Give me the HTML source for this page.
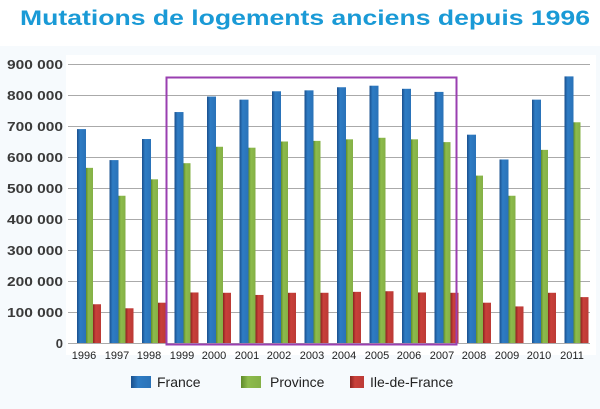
<!DOCTYPE html>
<html><head><meta charset="utf-8"><style>
html,body{margin:0;padding:0;background:#fff;}
svg{display:block;}
</style></head><body>
<svg id="c" width="600" height="409" viewBox="0 0 600 409" xmlns="http://www.w3.org/2000/svg" font-family="Liberation Sans, Arial, sans-serif">
<defs>
<linearGradient id="gb" x1="0" x2="1"><stop offset="0" stop-color="#1a4f8c"/><stop offset="0.35" stop-color="#2e7cc4"/><stop offset="1" stop-color="#2a72b8"/></linearGradient>
<linearGradient id="gg" x1="0" x2="1"><stop offset="0" stop-color="#5e8a2a"/><stop offset="0.35" stop-color="#8dbb4c"/><stop offset="1" stop-color="#84b046"/></linearGradient>
<linearGradient id="gr" x1="0" x2="1"><stop offset="0" stop-color="#8a2420"/><stop offset="0.35" stop-color="#c9403a"/><stop offset="1" stop-color="#bb3a35"/></linearGradient>
</defs>
<rect x="0" y="0" width="600" height="409" fill="#fff"/>
<rect x="0" y="46" width="600" height="363" fill="#f6fafd"/>
<rect x="66" y="55" width="530" height="300" fill="#fff"/>
<text x="20" y="25" font-size="21" font-weight="bold" fill="#1a9ad6" textLength="570" lengthAdjust="spacingAndGlyphs">Mutations de logements anciens depuis 1996</text>
<g id="grid" stroke="#aaa" stroke-width="1"></g>
<g font-size="13" font-weight="bold" fill="#3a3a3a" text-anchor="end">
<text x="63" y="69" textLength="56" lengthAdjust="spacingAndGlyphs">900 000</text>
<text x="63" y="100" textLength="56" lengthAdjust="spacingAndGlyphs">800 000</text>
<text x="63" y="131" textLength="56" lengthAdjust="spacingAndGlyphs">700 000</text>
<text x="63" y="162" textLength="56" lengthAdjust="spacingAndGlyphs">600 000</text>
<text x="63" y="193" textLength="56" lengthAdjust="spacingAndGlyphs">500 000</text>
<text x="63" y="224" textLength="56" lengthAdjust="spacingAndGlyphs">400 000</text>
<text x="63" y="255" textLength="56" lengthAdjust="spacingAndGlyphs">300 000</text>
<text x="63" y="286" textLength="56" lengthAdjust="spacingAndGlyphs">200 000</text>
<text x="63" y="317" textLength="56" lengthAdjust="spacingAndGlyphs">100 000</text>
<text x="63" y="348">0</text>
</g>
<g id="bars"></g>
<rect x="166.5" y="77.5" width="290" height="267" fill="none" stroke="#9a3fb0" stroke-width="2"/>
<g font-size="11" fill="#222" text-anchor="middle">
<text x="84" y="359">1996</text><text x="117" y="359">1997</text><text x="149" y="359">1998</text><text x="182" y="359">1999</text>
<text x="214" y="359">2000</text><text x="247" y="359">2001</text><text x="279" y="359">2002</text><text x="312" y="359">2003</text>
<text x="344" y="359">2004</text><text x="377" y="359">2005</text><text x="409" y="359">2006</text><text x="442" y="359">2007</text>
<text x="474" y="359">2008</text><text x="507" y="359">2009</text><text x="539" y="359">2010</text><text x="572" y="359">2011</text>
</g>
<g font-size="14" fill="#222">
<rect x="131" y="376" width="20" height="12" fill="url(#gb)"/><text x="157" y="387">France</text>
<rect x="241" y="376" width="20" height="12" fill="url(#gg)"/><text x="270" y="387">Province</text>
<rect x="350" y="376" width="14" height="12" fill="url(#gr)"/><text x="370" y="387">Ile-de-France</text>
</g>
</svg>
<script>
(function(){
var ns="http://www.w3.org/2000/svg";
var y0=343,k=31.0/100;
var g=document.getElementById('grid');
for(var i=0;i<=9;i++){var y=Math.round(y0-i*31)+0.5;var l=document.createElementNS(ns,'line');
l.setAttribute('x1',68);l.setAttribute('x2',590);l.setAttribute('y1',y);l.setAttribute('y2',y);g.appendChild(l);}
var d=[[690,565,125],[590,475,112],[658,528,130],[745,580,163],[795,633,162],[785,630,155],[812,650,162],[815,652,162],[825,657,165],[830,662,167],[820,657,163],[810,648,162],[672,540,130],[592,475,118],[785,623,162],[860,712,148]];
var b=document.getElementById('bars');var fills=['url(#gb)','url(#gg)','url(#gr)'];var w=[9,7,8];var off=[0,9,16];
for(var j=0;j<d.length;j++){var x0=77+j*32.5;
for(var s=0;s<3;s++){var h=d[j][s]*k;var r=document.createElementNS(ns,'rect');
r.setAttribute('x',x0+off[s]);r.setAttribute('y',y0-h);r.setAttribute('width',w[s]);r.setAttribute('height',h);
r.setAttribute('fill',fills[s]);b.appendChild(r);}}
})();
</script>
</body></html>
